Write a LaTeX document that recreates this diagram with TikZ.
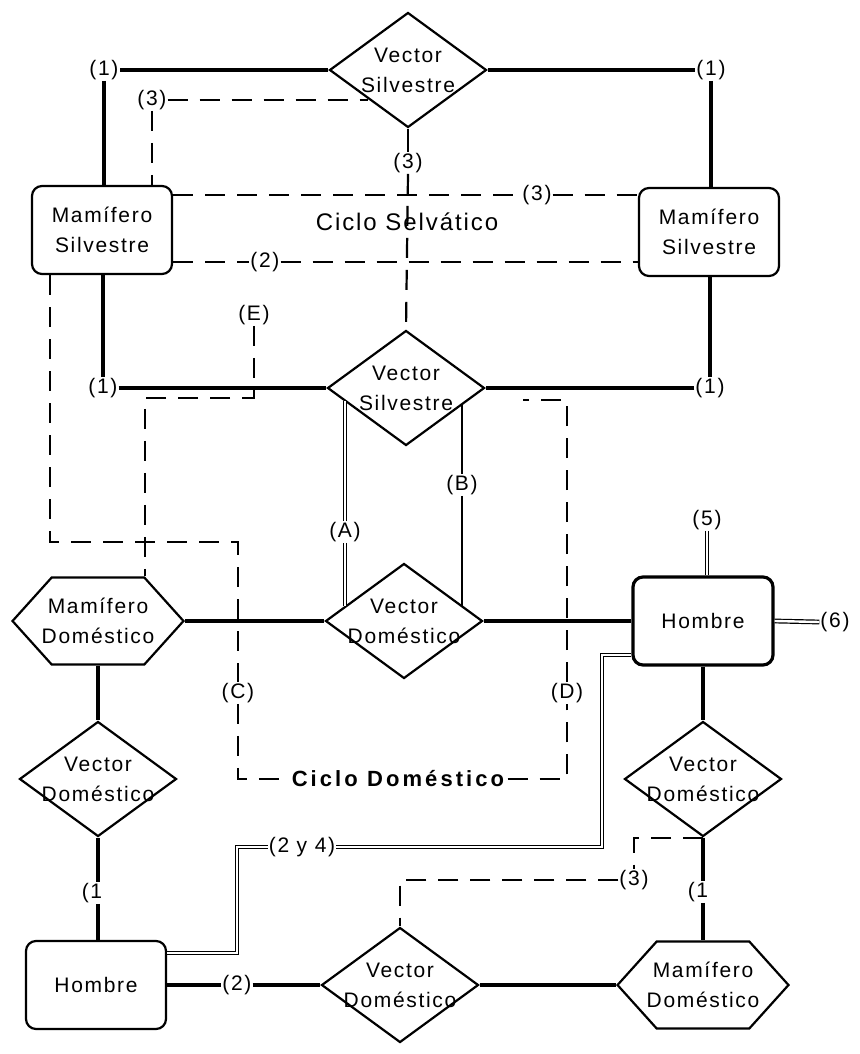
\documentclass[tikz,border=0pt]{standalone}
\usepackage{fontspec}
\setmainfont{Liberation Sans}[LetterSpace=8]
\usetikzlibrary{shapes.geometric,shapes.symbols}

\begin{document}
\begin{tikzpicture}[x=1pt,y=-1pt,
	every node/.style={font=\fontsize{21}{30}\selectfont,align=center},
	vector node/.style={diamond,draw,line width=2.2pt,inner sep=-6pt,aspect=1.37,minimum width=157pt,minimum height=115pt},
	wild node/.style={rectangle,rounded corners=10pt,draw,line width=2.2pt,minimum width=140pt,minimum height=88pt},
	man node/.style={wild node,line width=3.2pt},
	pet node/.style={signal,signal to=west and east,signal pointer angle=96,draw,line width=2.2pt,inner xsep=-10pt,inner ysep=0pt,minimum height=87pt},
	num tag/.style={inner sep=1pt},
	strong link/.style={line width=4pt},
	thin link/.style={line width=1.8pt},
	dash link/.style={line width=2.2pt,dash pattern=on 20pt off 12pt},
	double link/.style={line width=1.2pt,double,double distance=2.4pt}
]

	\useasboundingbox (0,0) rectangle (859,1054);

	\node[vector node] (vsTop) at (408,70) {Vector\\Silvestre};
	\node[wild node] (msLeft) at (102,230) {Mamífero\\Silvestre};
	\node[wild node] (msRight) at (709,232) {Mamífero\\Silvestre};
	\node[vector node] (vsMid) at (406,388) {Vector\\Silvestre};
	\node[pet node] (mdLeft) at (98,621) {Mamífero\\Doméstico};
	\node[vector node] (vdMid) at (404,621) {Vector\\Doméstico};
	\node[man node] (hbRight) at (703,621) {Hombre};
	\node[vector node] (vdRight) at (703,779) {Vector\\Doméstico};
	\node[vector node] (vdLeft) at (98,779) {Vector\\Doméstico};
	\node[wild node] (hbLeft) at (96,985) {Hombre};
	\node[vector node] (vdBot) at (400,985) {Vector\\Doméstico};
	\node[pet node] (mdRight) at (703,985) {Mamífero\\Doméstico};

	\node[num tag] (one1) at (104,70) {(1)};
	\node[num tag] (one2) at (711,70) {(1)};
	\node[num tag] (one3) at (103,388) {(1)};
	\node[num tag] (one4) at (710,388) {(1)};
	\node[num tag] (three1) at (152,100) {(3)};
	\node[num tag] (three2) at (408,163) {(3)};
	\node[num tag] (three3) at (537,195) {(3)};
	\node[num tag] (three4) at (634,880) {(3)};
	\node[num tag] (two1) at (265,262) {(2)};
	\node[num tag] (two2) at (237,985) {(2)};
	\node[num tag] (tagE) at (254,315) {(E)};
	\node[num tag] (tagA) at (345,532) {(A)};
	\node[num tag] (tagB) at (462,485) {(B)};
	\node[num tag] (tagC) at (238,693) {(C)};
	\node[num tag] (tagD) at (567,693) {(D)};
	\node[num tag] (five) at (707,520) {(5)};
	\node[num tag] (six) at (835,622) {(6)};
	\node[num tag] (twofour) at (302,847) {(2 y 4)};
	\node[num tag] (oneL) at (92,893) {(1};
	\node[num tag] (oneR) at (698,892) {(1};

	\node[font=\fontsize{24}{28}\selectfont\addfontfeature{LetterSpace=8}] (selva) at (407,222) {Ciclo Selvático};
	\node[font=\fontsize{22}{26}\selectfont\bfseries\addfontfeature{LetterSpace=14}] (cdom) at (398,779) {Ciclo Doméstico};

	\coordinate (cA) at (50,542);
	\coordinate (cB) at (238,542);
	\coordinate (cC) at (238,779);
	\coordinate (cD) at (567,779);
	\coordinate (cE) at (567,400);
	\coordinate (cF) at (523,400);
	\coordinate (eA) at (254,398);
	\coordinate (eB) at (145,398);
	\coordinate (h1) at (602,655);
	\coordinate (h3) at (237,953);

	\draw[strong link] (vsTop.west) -- (one1.east);
	\draw[strong link] (one1.south) -- (one1.south |- msLeft.north);
	\draw[strong link] (vsTop.east) -- (one2.west);
	\draw[strong link] (one2.south) -- (one2.south |- msRight.north);
	\draw[strong link] (one3.north |- msLeft.south) -- (one3.north);
	\draw[strong link] (one3.east) -- (vsMid.west);
	\draw[strong link] (one4.north |- msRight.south) -- (one4.north);
	\draw[strong link] (one4.west) -- (vsMid.east);

	\draw[strong link] (mdLeft.east) -- (vdMid.west);
	\draw[strong link] (vdMid.east) -- (hbRight.west);
	\draw[strong link] (mdLeft.south) -- (vdLeft.north);
	\draw[strong link] (vdLeft.south) -- (vdLeft.south |- oneL.north);
	\draw[strong link] (oneL.south -| vdLeft.south) -- (vdLeft.south |- hbLeft.north);
	\draw[strong link] (hbRight.south) -- (vdRight.north);
	\draw[strong link] (vdRight.south) -- (vdRight.south |- oneR.north);
	\draw[strong link] (oneR.south -| mdRight.north) -- (mdRight.north);
	\draw[strong link] (hbLeft.east) -- (two2.west);
	\draw[strong link] (two2.east) -- (vdBot.west);
	\draw[strong link] (vdBot.east) -- (mdRight.west);

	\draw[thin link] (vsTop.south) -- (three2.north);
	\draw[dash link] (three2.south) -- (vsMid.north);
	\draw[dash link] (three1.east) -- (three1.east -| vsTop.south west);
	\draw[dash link] (three1.south) -- (three1.south |- msLeft.north);
	\draw[dash link] (msLeft.east |- three3) -- (three3.west);
	\draw[dash link] (three3.east) -- (three3 -| msRight.west);
	\draw[dash link] (msLeft.east |- two1) -- (two1.west);
	\draw[dash link] (two1.east) -- (two1 -| msRight.west);

	\draw[dash link] (cA |- msLeft.south) -- (cA) -- (cB) -- (tagC.north);
	\draw[dash link] (tagC.south) -- (cC) -- (cdom.west);
	\draw[dash link] (cdom.east) -- (cD) -- (tagD.south);
	\draw[dash link] (tagD.north) -- (cE) -- (cF);
	\draw[dash link] (tagE.south) -- (eA) -- (eB) -- (eB |- mdLeft.north);

	\draw[double link] (tagA.north |- vsMid.192) -- (tagA.north);
	\draw[double link] (tagA.south) -- (tagA.south |- vdMid.166);
	\draw[thin link] (tagB.north |- vsMid.-16) -- (tagB.north);
	\draw[thin link] (tagB.south) -- (tagB.south |- vdMid.14);

	\draw[double link] (five.south) -- (five.south |- hbRight.north);
	\draw[double link] (hbRight.east) -- (six.west);
	\draw[double link] (hbRight.west |- h1) -- (h1) -- (h1 |- twofour) -- (twofour.east);
	\draw[double link] (twofour.west) -- (h3 |- twofour) -- (h3) -- (hbLeft.east |- h3);

	\draw[dash link] (vdRight.south) -- (vdRight.south -| three4) -- (three4.north);
	\draw[dash link] (three4.west) -- (three4.west -| vdBot.north) -- (vdBot.north);
\end{tikzpicture}
\end{document}
